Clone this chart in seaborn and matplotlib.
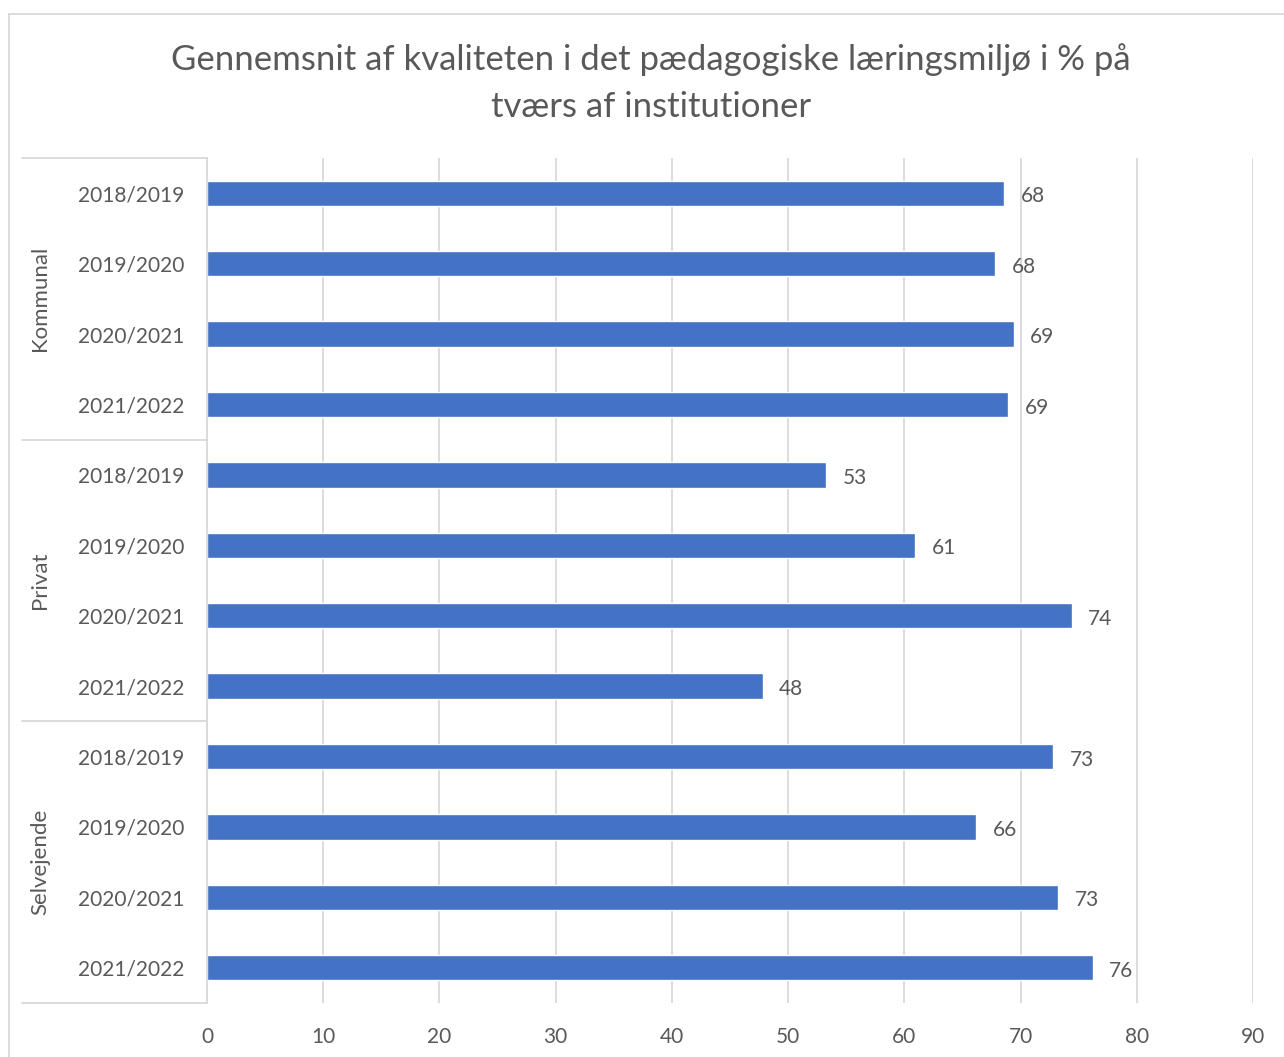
import matplotlib
matplotlib.use('Agg')
import matplotlib.pyplot as plt
import seaborn as sns
import pandas as pd
from matplotlib.patches import Rectangle
from matplotlib.lines import Line2D

# Daten
groups = ['Kommunal', 'Privat', 'Selvejende']
years = ['2018/2019', '2019/2020', '2020/2021', '2021/2022']
kommunal = [68.6, 67.8, 69.4, 68.9]
privat = [53.3, 60.9, 74.4, 47.8]
selvejende = [72.8, 66.2, 73.2, 76.2]
value_labels = ['68', '68', '69', '69', '53', '61', '74', '48', '73', '66', '73', '76']

rows = []
for g, vals in zip(groups, [kommunal, privat, selvejende]):
    for y, v in zip(years, vals):
        rows.append({'key': g + ' ' + y, 'group': g, 'year': y, 'value': v})
df = pd.DataFrame(rows)

sns.set_theme(style='white')
plt.rcParams['font.family'] = ['Lato', 'DejaVu Sans']

text_color = '#595959'
grid_color = '#D9D9D9'
bar_color = '#4472C4'

fig = plt.figure(figsize=(12.84, 10.57), dpi=100)
ax = fig.add_axes([207 / 1284, 1 - 1003 / 1057, (1253 - 207) / 1284, (1003 - 158) / 1057])

sns.barplot(data=df, x='value', y='key', order=list(df['key']), color=bar_color,
            width=0.36, saturation=1, ax=ax)

ax.set_xlim(0, 90)
ax.set_ylim(11.5, -0.5)
ax.set_xticks(range(0, 91, 10))
ax.set_xlabel('')
ax.set_ylabel('')
ax.set_yticks(range(len(df)))
ax.set_yticklabels(df['year'])
ax.tick_params(axis='both', length=0, labelsize=15, colors=text_color)
ax.tick_params(axis='y', pad=16.5)
ax.tick_params(axis='x', pad=17)
ax.grid(axis='x', color=grid_color, linewidth=1.3)
ax.set_axisbelow(True)
for s in ['top', 'right', 'bottom']:
    ax.spines[s].set_visible(False)
ax.spines['left'].set_color(grid_color)
ax.spines['left'].set_linewidth(1.3)

# Werte an den Balken (etwas tiefer gesetzt)
texts = ax.bar_label(ax.containers[0], labels=value_labels, padding=12, fontsize=15, color=text_color)
for t in texts:
    t.xyann = (12, -2.2)

# Gruppenbeschriftungen und Trennlinien
x0 = (22 - 207) / (1253 - 207)
for i in range(len(groups) + 1):
    yy = 1 - i * 4 / 12
    ax.add_line(Line2D([x0, 0], [yy, yy], transform=ax.transAxes, color=grid_color,
                       linewidth=1.3, clip_on=False))
for i, g in enumerate(groups):
    ax.text((40 - 207) / (1253 - 207), 1 - (i * 4 + 2) / 12, g, transform=ax.transAxes,
            rotation=90, ha='center', va='center', fontsize=16, color=text_color)

# Titel
fig.text(651 / 1284, 1 - 83 / 1057,
         'Gennemsnit af kvaliteten i det pædagogiske læringsmiljø i % på\ntværs af institutioner',
         ha='center', va='center', fontsize=25, color=text_color, linespacing=1.55)

# Rahmen
fig.patches.append(Rectangle((9 / 1284, -0.1), 1.2, 1 - 14 / 1057 + 0.1, transform=fig.transFigure,
                             fill=False, edgecolor=grid_color, linewidth=1.3))

fig.savefig('out.png', dpi=100)
